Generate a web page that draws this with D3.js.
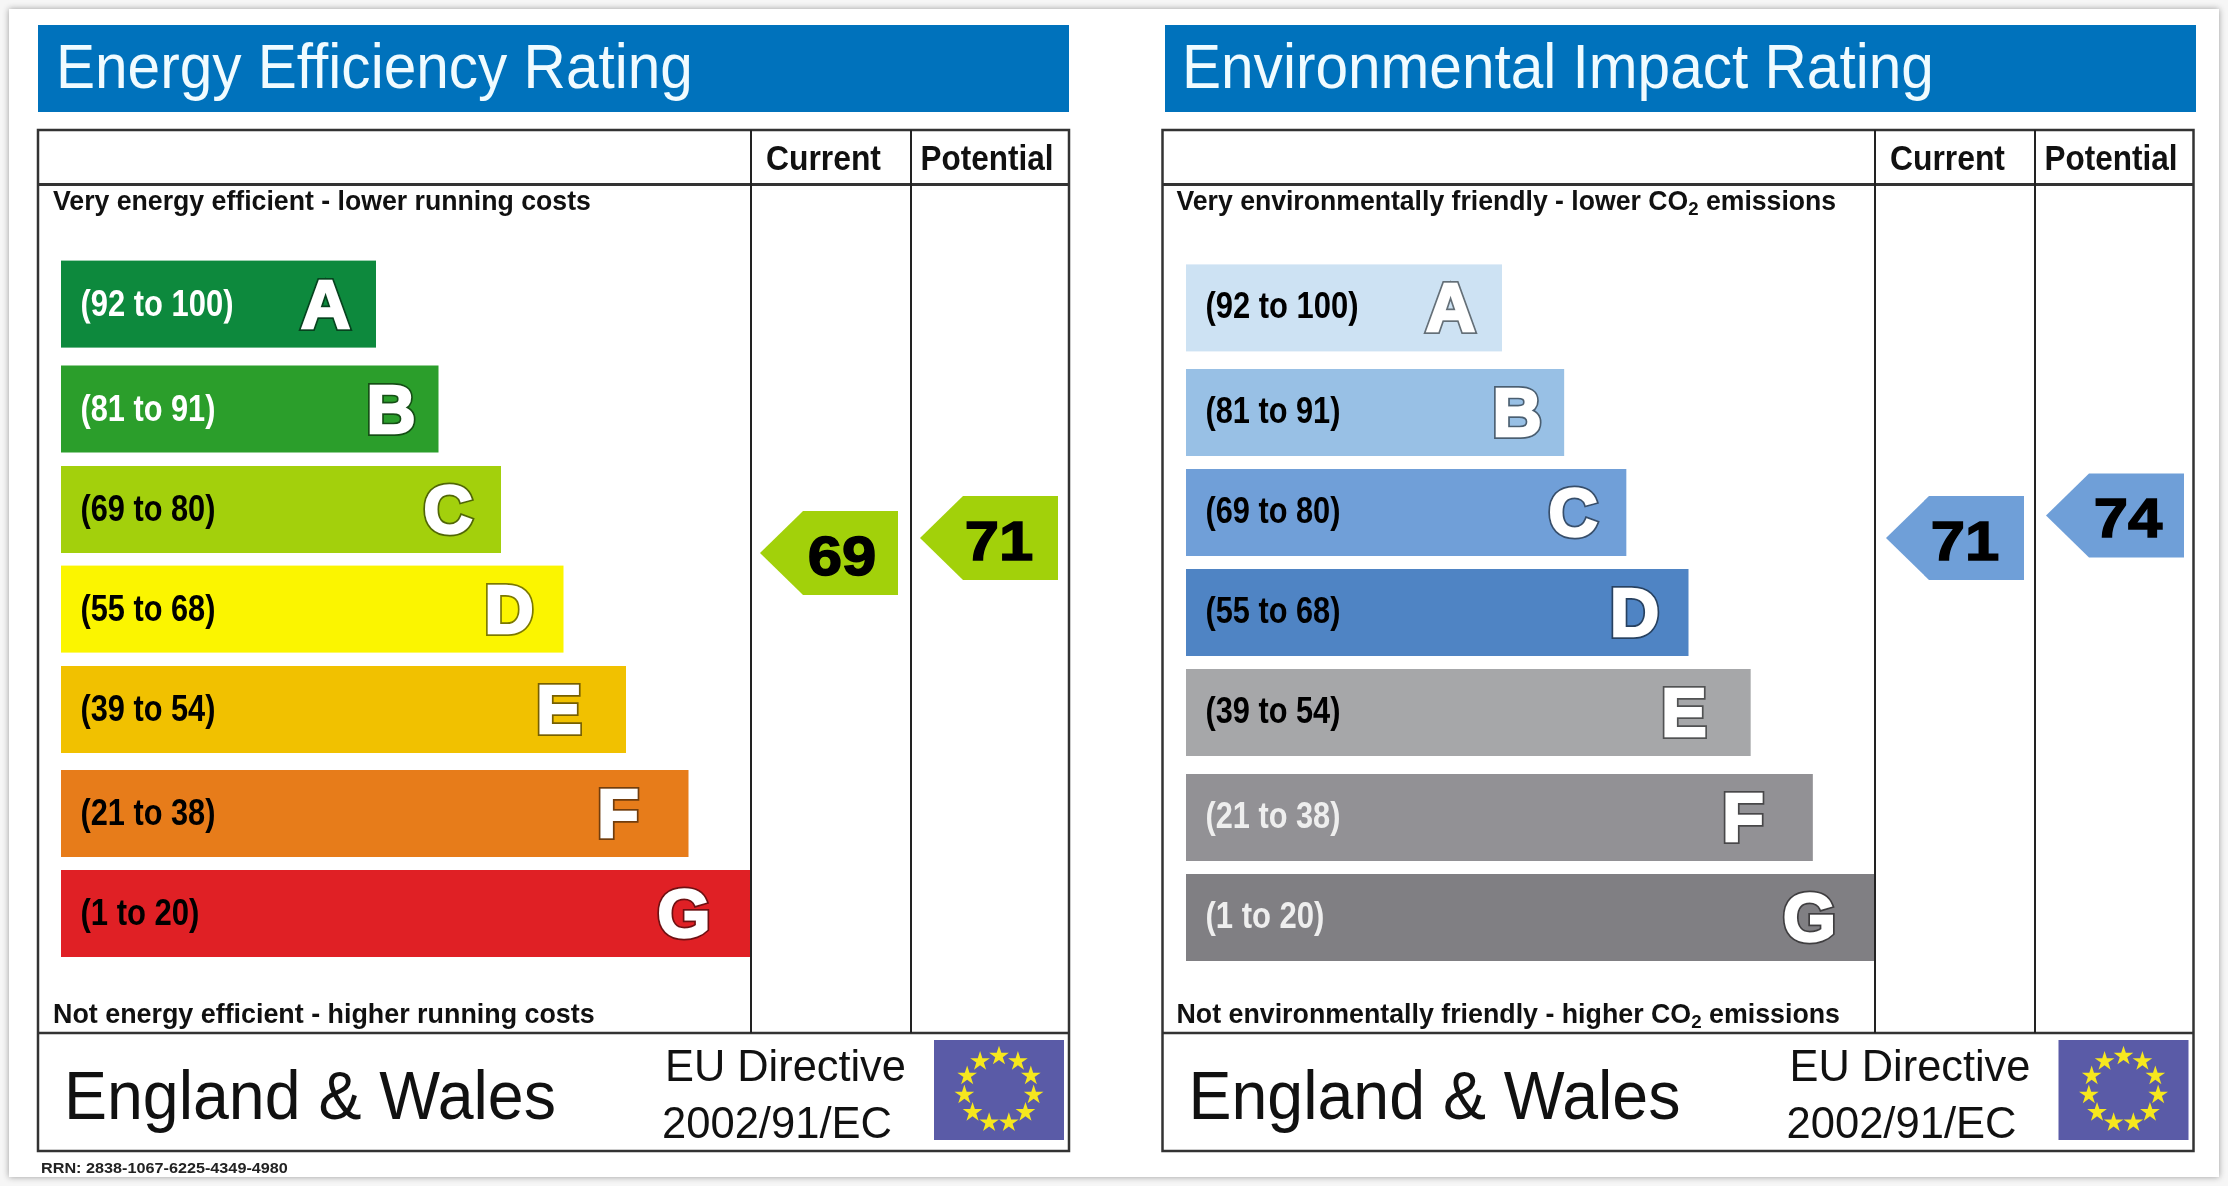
<!DOCTYPE html>
<html>
<head>
<meta charset="utf-8">
<title>EPC ratings</title>
<script src="https://cdn.jsdelivr.net/npm/d3@7"></script>
<style>
  html, body { margin: 0; padding: 0; background: #f6f6f6; }
  svg { display: block; filter: blur(0.65px); font-family: "Liberation Sans", Arial, sans-serif; }
</style>
</head>
<body>
<svg id="chart" width="2228" height="1186"></svg>
<script>
// values read from the certificate
const bandLetters = ['A', 'B', 'C', 'D', 'E', 'F', 'G'];
const bandRanges = ['(92 to 100)', '(81 to 91)', '(69 to 80)', '(55 to 68)', '(39 to 54)', '(21 to 38)', '(1 to 20)'];
const bandLengths = [1, 2, 3, 4, 5, 6, 7];
const energyScores = [69, 71];
const impactScores = [71, 74];
const columnNames = ['Current', 'Potential'];
const rrnText = 'RRN: 2838-1067-6225-4349-4980';

const energyColors = ['#0d893d', '#2b9e2b', '#a3d00c', '#fbf500', '#f1c100', '#e77c1a', '#e02025'];
const impactColors = ['#cde2f3', '#98c0e5', '#709fd8', '#4f84c4', '#a6a7a9', '#929195', '#807f83'];
const energyRangeInk = ['#fff', '#fff', '#000', '#000', '#000', '#000', '#000'];
const impactRangeInk = ['#000', '#000', '#000', '#000', '#000', '#eee', '#eee'];

const svg = d3.select('#chart');

svg.append('rect')
  .attr('x', 9).attr('y', 9).attr('width', 2210).attr('height', 1168)
  .attr('fill', '#fff')
  .style('filter', 'drop-shadow(0 0 3px #999)');

// squeeze or stretch a text so it spans the width measured on the reference
function fitText(sel, x, y, width) {
  const natural = sel.node().getComputedTextLength();
  sel.attr('transform', `translate(${x},${y}) scale(${width / natural},1)`);
  return sel;
}

function addLabel(g, text, x, y, width, size, weight, fill) {
  const t = g.append('text')
    .attr('font-size', size)
    .attr('font-weight', weight)
    .attr('fill', fill)
    .text(text);
  return fitText(t, x, y, width);
}

function addCo2Label(g, before, after, x, y, width, size) {
  const t = g.append('text').attr('font-size', size).attr('font-weight', 'bold').attr('fill', '#111');
  t.append('tspan').text(before);
  t.append('tspan').attr('font-size', size * 0.7).attr('dy', 5).text('2');
  t.append('tspan').attr('dy', -5).text(after);
  return fitText(t, x, y, width);
}

function drawFlag(g, x, y) {
  const w = 130;
  const h = 100;
  g.append('rect').attr('x', x).attr('y', y).attr('width', w).attr('height', h).attr('fill', '#5a5ba7');
  const star = d3.symbol().type(d3.symbolStar).size(120);
  const angle = d3.scaleLinear().domain([0, 11]).range([0, 2 * Math.PI]);
  d3.range(11).forEach((i) => {
    const a = angle(i);
    g.append('path')
      .attr('d', star())
      .attr('fill', '#f6e71e')
      .attr('transform', `translate(${x + 65 + 35 * Math.sin(a)},${y + 50 - 34 * Math.cos(a)})`);
  });
}

function drawPanel(p) {
  const g = svg.append('g');

  g.append('rect')
    .attr('x', p.headerX).attr('y', 25).attr('width', 1031).attr('height', 87)
    .attr('fill', '#0072bc');
  addLabel(g, p.title, p.titleX, 87.5, p.titleWidth, 63, 'normal', '#f0fbff');

  const x0 = p.tableX;
  const x = d3.scaleLinear().domain([1, 7]).range([p.barX + p.barMin, p.colX[0]]);
  const yTop = d3.scaleOrdinal(bandLetters, p.barTops);
  const barHeight = 87;

  // bars first, the table rules sit on top
  g.selectAll('rect.band')
    .data(bandLetters)
    .join('rect')
    .attr('class', 'band')
    .attr('x', p.barX)
    .attr('y', (d) => yTop(d))
    .attr('width', (d, i) => x(bandLengths[i]) - p.barX)
    .attr('height', barHeight)
    .attr('fill', (d, i) => p.colors[i]);

  bandLetters.forEach((d, i) => {
    const cy = yTop(d) + barHeight / 2;
    addLabel(g, bandRanges[i], p.barX + 19.5, cy + p.rangeDy, p.rangeWidths[i], 37, 'bold', p.rangeInk[i]);

    const outline = d3.color(p.colors[i]).darker(2).formatHex();
    [[outline, 6], ['#fff', 2.6]].forEach(([ink, sw]) => {
      g.append('text')
        .attr('x', p.letterX[i]).attr('y', cy + 23.5)
        .attr('text-anchor', 'middle')
        .attr('font-size', 68)
        .attr('font-weight', 'bold')
        .attr('fill', '#fff')
        .attr('stroke', ink)
        .attr('stroke-width', sw)
        .attr('stroke-linejoin', 'miter')
        .text(d);
    });
  });

  // table rules
  const ruleInk = '#222';
  g.append('rect')
    .attr('x', x0).attr('y', 130).attr('width', 1031).attr('height', 1021)
    .attr('fill', 'none').attr('stroke', '#333').attr('stroke-width', 2.5);
  g.append('line').attr('x1', x0).attr('x2', x0 + 1031).attr('y1', 184.5).attr('y2', 184.5)
    .attr('stroke', '#333').attr('stroke-width', 3);
  g.append('line').attr('x1', x0).attr('x2', x0 + 1031).attr('y1', 1033).attr('y2', 1033)
    .attr('stroke', '#333').attr('stroke-width', 2.5);
  p.colX.forEach((cx) => {
    g.append('line').attr('x1', cx).attr('x2', cx).attr('y1', 130).attr('y2', 1033)
      .attr('stroke', ruleInk).attr('stroke-width', 2);
  });

  addLabel(g, columnNames[0], p.colX[0] + 15, 170, 115, 35, 'bold', '#111');
  addLabel(g, columnNames[1], p.colX[1] + 9.5, 170, 133, 35, 'bold', '#111');

  // score arrows
  const yScore = d3.scaleLinear().domain([69, 74]).range([553, 515.5]);
  const outlineShape = d3.line();
  p.scores.forEach((v, i) => {
    const tip = p.colX[i] + p.tipDx;
    const cy = yScore(v);
    g.append('path')
      .attr('d', outlineShape([
        [tip, cy], [tip + 43, cy - 42], [tip + 138, cy - 42], [tip + 138, cy + 42], [tip + 43, cy + 42]
      ]) + 'Z')
      .attr('fill', p.pointerFill);
    g.append('text')
      .attr('x', 0).attr('y', 0)
      .attr('text-anchor', 'middle')
      .attr('font-size', 56)
      .attr('font-weight', 'bold')
      .attr('stroke', '#000')
      .attr('stroke-width', 1.5)
      .attr('fill', '#000')
      .attr('transform', `translate(${tip + p.scoreDx[i]},${cy + 21.5}) scale(1.1,1)`)
      .text(v);
  });

  p.drawTexts(g);

  addLabel(g, 'England & Wales', x0 + 26, 1118.5, 492, 69, 'normal', '#111');
  addLabel(g, 'EU Directive', x0 + 627, 1081, 241, 44, 'normal', '#111');
  addLabel(g, '2002/91/EC', x0 + 624, 1138, 230, 44, 'normal', '#111');
  drawFlag(g, x0 + 896, 1040);
}

drawPanel({
  title: 'Energy Efficiency Rating',
  headerX: 38,
  titleX: 56,
  titleWidth: 637,
  tableX: 38,
  barX: 61,
  barMin: 315,
  colX: [751, 911],
  barTops: [260.6, 365.5, 466, 565.6, 666, 770, 870],
  rangeWidths: [153, 135, 135, 135, 135, 135, 119],
  rangeDy: 11.5,
  letterX: [325.5, 391, 448, 509, 559, 618, 684],
  colors: energyColors,
  rangeInk: energyRangeInk,
  pointerFill: '#a2d10a',
  tipDx: 9,
  scoreDx: [82, 79],
  scores: energyScores,
  drawTexts: (g) => {
    addLabel(g, 'Very energy efficient - lower running costs', 53, 210, 538, 27, 'bold', '#111');
    addLabel(g, 'Not energy efficient - higher running costs', 53, 1023, 542, 27, 'bold', '#111');
  }
});

drawPanel({
  title: 'Environmental Impact Rating',
  headerX: 1165,
  titleX: 1182,
  titleWidth: 752,
  tableX: 1162.5,
  barX: 1186,
  barMin: 316,
  colX: [1875, 2035],
  barTops: [264.4, 369, 469, 569, 669, 774, 874],
  rangeWidths: [153, 135, 135, 135, 135, 135, 119],
  rangeDy: 10,
  letterX: [1450.5, 1517, 1573, 1634.5, 1684, 1743, 1809.5],
  colors: impactColors,
  rangeInk: impactRangeInk,
  pointerFill: '#6f9fd8',
  tipDx: 11,
  scoreDx: [79, 82],
  scores: impactScores,
  drawTexts: (g) => {
    addCo2Label(g, 'Very environmentally friendly - lower CO', ' emissions', 1176.5, 210, 660, 27);
    addCo2Label(g, 'Not environmentally friendly - higher CO', ' emissions', 1176.5, 1023, 664, 27);
  }
});

addLabel(svg, rrnText, 41, 1173, 247, 15, 'bold', '#222');
</script>
</body>
</html>
